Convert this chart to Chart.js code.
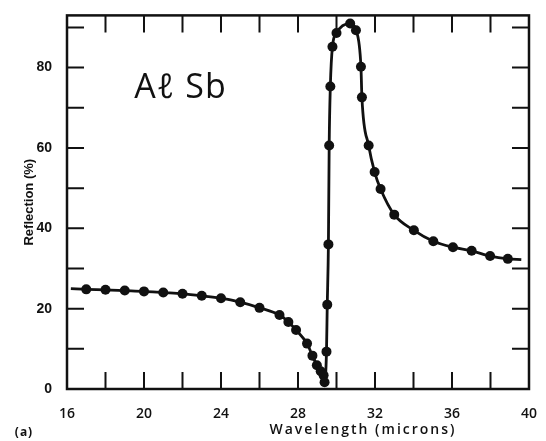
<!DOCTYPE html>
<html>
<head>
<meta charset="utf-8">
<script src="https://cdn.jsdelivr.net/npm/chart.js@4.4.1/dist/chart.umd.min.js"></script>
<style>
  html, body { margin: 0; padding: 0; background: #fff; }
  #wrap { width: 546px; height: 441px; }
</style>
</head>
<body>
<div id="wrap"><canvas id="reflection-chart"></canvas></div>
<script>
// wavelength (microns) and reflection (%) along the measured curve
const wavelength = [16.2, 17, 18, 19, 20, 21, 22, 23, 24, 25, 26, 27.04, 27.5, 27.9, 28.47, 28.75,
  28.98, 29.18, 29.33, 29.38, 29.48, 29.52, 29.58, 29.62, 29.68, 29.79, 30.0, 30.71, 31.01,
  31.27, 31.32, 31.67, 31.98, 32.29, 33.0, 34.02, 35.03, 36.05, 37.02, 37.98, 38.9, 39.6]
const reflection = [25.0, 24.8, 24.7, 24.5, 24.3, 24.0, 23.7, 23.2, 22.6, 21.6, 20.2, 18.4, 16.7, 14.7, 11.3, 8.3,
  5.9, 4.4, 3.4, 1.7, 9.3, 21.0, 36.0, 60.6, 75.3, 85.2, 88.6, 91.0, 89.3,
  80.2, 72.6, 60.6, 54.0, 49.8, 43.4, 39.5, 36.8, 35.3, 34.4, 33.1, 32.4, 32.2]

const xTicks = [16, 18, 20, 22, 24, 26, 28, 30, 32, 34, 36, 38, 40]
const xLabels = [16, 20, 24, 28, 32, 36, 40]
const yTicks = [0, 10, 20, 30, 40, 50, 60, 70, 80, 90]
const yLabels = [0, 20, 40, 60, 80]

const INK = '#111'
const TICK_LEN = 17

const points = wavelength.map((x, i) => ({x: x, y: reflection[i]}))

// box round the plot with the tick marks pointing inwards on all four sides
const frameTicks = {
  id: 'frameTicks',
  beforeDatasetsDraw(chart) {
    const {ctx, chartArea: a, scales: {x, y}} = chart
    ctx.save()
    ctx.strokeStyle = INK
    ctx.lineWidth = 2
    ctx.beginPath()
    xTicks.forEach(v => {
      if (v === x.min || v === x.max) return
      const px = x.getPixelForValue(v)
      ctx.moveTo(px, a.bottom); ctx.lineTo(px, a.bottom - TICK_LEN)
      ctx.moveTo(px, a.top); ctx.lineTo(px, a.top + TICK_LEN)
    })
    yTicks.forEach(v => {
      if (v === y.min) return
      const py = y.getPixelForValue(v)
      ctx.moveTo(a.left, py); ctx.lineTo(a.left + TICK_LEN, py)
      ctx.moveTo(a.right, py); ctx.lineTo(a.right - TICK_LEN, py)
    })
    ctx.stroke()
    ctx.lineWidth = 2.5
    ctx.strokeRect(a.left, a.top, a.right - a.left, a.bottom - a.top)
    ctx.restore()
  },
  afterDraw(chart) {
    const {ctx, scales: {x, y}} = chart
    ctx.save()
    ctx.fillStyle = INK
    ctx.textBaseline = 'middle'
    ctx.textAlign = 'center'
    ctx.font = '600 14px "Open Sans", "DejaVu Sans", sans-serif'
    ctx.letterSpacing = '2px'
    ctx.fillText('Wavelength (microns)', 363, 430)
    ctx.letterSpacing = '1px'
    ctx.font = 'bold 12px "Open Sans", sans-serif'
    ctx.fillText('(a)', 24, 433)
    ctx.letterSpacing = '1px'
    ctx.textAlign = 'left'
    ctx.font = '34px "Open Sans", "Noto Sans", sans-serif'
    ctx.fillText('A\u2113 Sb', x.getPixelForValue(19.5), y.getPixelForValue(74.8))
    ctx.restore()
  }
}

new Chart(document.getElementById('reflection-chart'), {
  type: 'line',
  data: {
    datasets: [{
      data: points,
      borderColor: INK,
      borderWidth: 2.8,
      backgroundColor: INK,
      pointBackgroundColor: INK,
      pointBorderWidth: 0,
      pointRadius: ctx => (ctx.dataIndex === 0 || ctx.dataIndex === points.length - 1) ? 0 : 5,
      cubicInterpolationMode: 'monotone',
      fill: false
    }]
  },
  options: {
    responsive: true,
    maintainAspectRatio: false,
    animation: false,
    events: [],
    layout: {padding: {top: 9, right: 9, left: 0, bottom: 0}},
    plugins: {legend: {display: false}, tooltip: {enabled: false}},
    scales: {
      x: {
        type: 'linear',
        min: 16,
        max: 40,
        afterBuildTicks: scale => { scale.ticks = xTicks.map(v => ({value: v})) },
        afterFit: scale => { scale.height = 52 },
        grid: {display: false},
        border: {display: false},
        ticks: {
          color: INK,
          padding: 9,
          maxRotation: 0,
          autoSkip: false,
          font: {family: '"Open Sans", sans-serif', size: 14, weight: '600'},
          callback: v => xLabels.includes(v) ? String(v) : ''
        }
      },
      y: {
        min: 0,
        max: 93,
        afterBuildTicks: scale => { scale.ticks = yTicks.map(v => ({value: v})) },
        afterFit: scale => { scale.width = 67 },
        grid: {display: false},
        border: {display: false},
        title: {
          display: true,
          text: 'Reflection (%)',
          color: INK,
          padding: {top: 22, bottom: 0},
          font: {family: '"Liberation Sans", sans-serif', size: 13, weight: 'bold'}
        },
        ticks: {
          color: INK,
          padding: 7,
          autoSkip: false,
          font: {family: '"Liberation Sans", sans-serif', size: 14, weight: 'bold'},
          callback: v => yLabels.includes(v) ? String(v) : ''
        }
      }
    }
  },
  plugins: [frameTicks]
})
</script>
</body>
</html>
